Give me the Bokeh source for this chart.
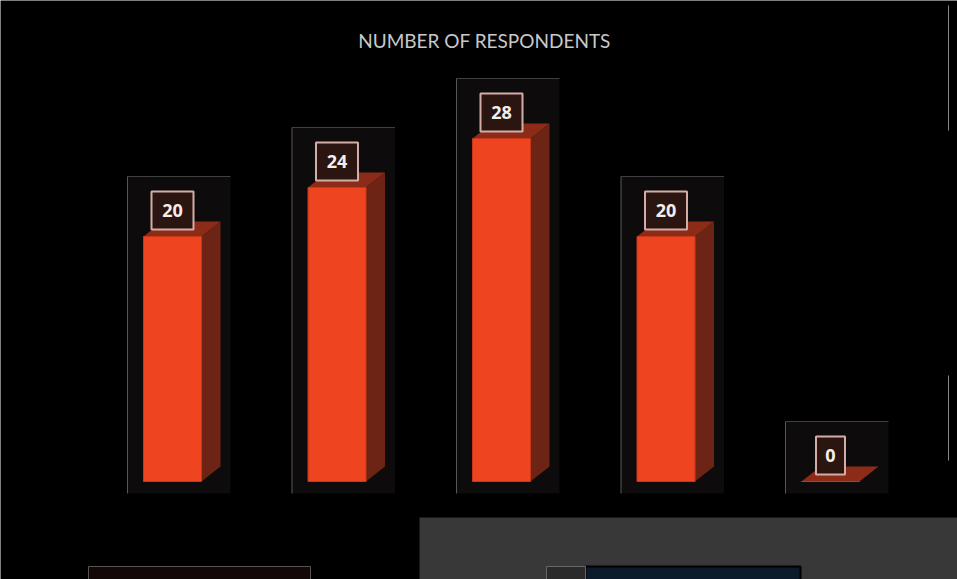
from bokeh.plotting import figure
from bokeh.models import Range1d, ColumnDataSource
from bokeh.core.properties import value
from bokeh.embed import file_html
from bokeh.resources import INLINE

# ---- data ----
categories = ["Option 1", "Option 2", "Option 3", "Option 4", "Option 5"]
respondents = [20, 24, 28, 20, 0]
title_text = "NUMBER OF RESPONDENTS"

# ---- geometry (pixel scale of the canvas) ----
W, H = 957, 579
PX_PER_X = 164.5          # pixels per category slot
PX_PER_Y = 12.25          # pixels per respondent
X0 = -0.5456              # data x at left canvas edge
Y_BASE_PX = 481           # baseline pixel row
Y0 = -(H - Y_BASE_PX) / PX_PER_Y
Y1 = Y_BASE_PX / PX_PER_Y

def px(xp):
    return X0 + xp / PX_PER_X

def py(yp):
    return Y1 - yp / PX_PER_Y

p = figure(width=W, height=H, output_backend="svg", toolbar_location=None,
           x_range=Range1d(X0, X0 + W / PX_PER_X), y_range=Range1d(Y0, Y1),
           x_axis_type=None, y_axis_type=None,
           min_border_left=0, min_border_right=0, min_border_top=0, min_border_bottom=0)
p.background_fill_color = "black"
p.border_fill_color = "black"
p.outline_line_color = None
p.grid.visible = False

hw = 29 / PX_PER_X        # half width of the front face
dx = 19 / PX_PER_X        # depth offset x
dy = 15 / PX_PER_Y        # depth offset y
lab_off = 26 / PX_PER_Y   # label centre above bar top

xs = [i + 0.5 for i in range(len(categories))]

# decorative scan background blocks
p.quad(left=px(419), right=px(W + 2), bottom=py(H + 2), top=py(517),
       fill_color="#383838", line_color=None)
p.quad(left=px(585), right=px(800), bottom=py(H + 2), top=py(566),
       fill_color="#0c1b2b", line_color="black", line_width=2)
p.quad(left=px(88), right=px(310), bottom=py(H + 2), top=py(566),
       fill_color="#140806", line_color="#555555", line_width=1)
p.quad(left=px(546), right=px(585), bottom=py(H + 2), top=py(566),
       fill_color="#2a2a2a", line_color="#666666", line_width=1)
p.segment(x0=[px(948), px(948)], y0=[py(5), py(375)],
          x1=[px(948), px(948)], y1=[py(130), py(460)],
          line_color="#888888", line_width=1)

# halos behind bars
halo_left = [x - hw - 16 / PX_PER_X for x in xs]
halo_right = [x + hw + 29 / PX_PER_X for x in xs]
halo_top = [v + 60 / PX_PER_Y for v in respondents]
halo_bottom = [-12 / PX_PER_Y] * len(xs)
p.quad(left=halo_left, right=halo_right, bottom=halo_bottom, top=halo_top,
       fill_color="#0d0b0b", line_color=None)
p.segment(x0=halo_left, y0=halo_bottom, x1=halo_left, y1=halo_top,
          line_color="#7a7a7a", line_width=1, line_alpha=0.7)
p.segment(x0=halo_left, y0=halo_top, x1=halo_right, y1=halo_top,
          line_color="#7a7a7a", line_width=1, line_alpha=0.5)

# side faces
side_xs, side_ys, top_xs, top_ys = [], [], [], []
for x, v in zip(xs, respondents):
    xl, xr = x - hw, x + hw
    side_xs.append([xr, xr + dx, xr + dx, xr])
    side_ys.append([0, dy, v + dy, v])
    top_xs.append([xl, xl + dx, xr + dx, xr])
    top_ys.append([v, v + dy, v + dy, v])
p.patches(side_xs, side_ys, fill_color="#6e2414", line_color=None)
p.patches(top_xs, top_ys, fill_color="#8c2c18", line_color=None)

# front faces
src = ColumnDataSource(dict(x=xs, v=respondents, cat=categories))
p.vbar(x="x", top="v", bottom=0, width=2 * hw, source=src,
       fill_color="#ee4420", line_color="#c83818", line_width=1)

# value labels in boxes
lab_y = [v + lab_off for v in respondents]
lab_w = [16 + 13 * len(str(v)) for v in respondents]
p.rect(x=xs, y=lab_y, width=lab_w, height=38, width_units="screen", height_units="screen",
       fill_color="#2a1510", line_color="#d4aea6", line_width=2)
p.text(x=xs, y=lab_y, text=[str(v) for v in respondents],
       text_align="center", text_baseline="middle",
       text_font=value("Open Sans"), text_font_style="bold",
       text_font_size="18px", text_color="#f4eeea")

# title
p.text(x=[px(484)], y=[py(40)], text=[title_text], text_align="center",
       text_baseline="middle", text_font=value("Lato"),
       text_font_size="19px", text_color="#c8c8c8")

open("out.html", "w").write(file_html(p, INLINE))
